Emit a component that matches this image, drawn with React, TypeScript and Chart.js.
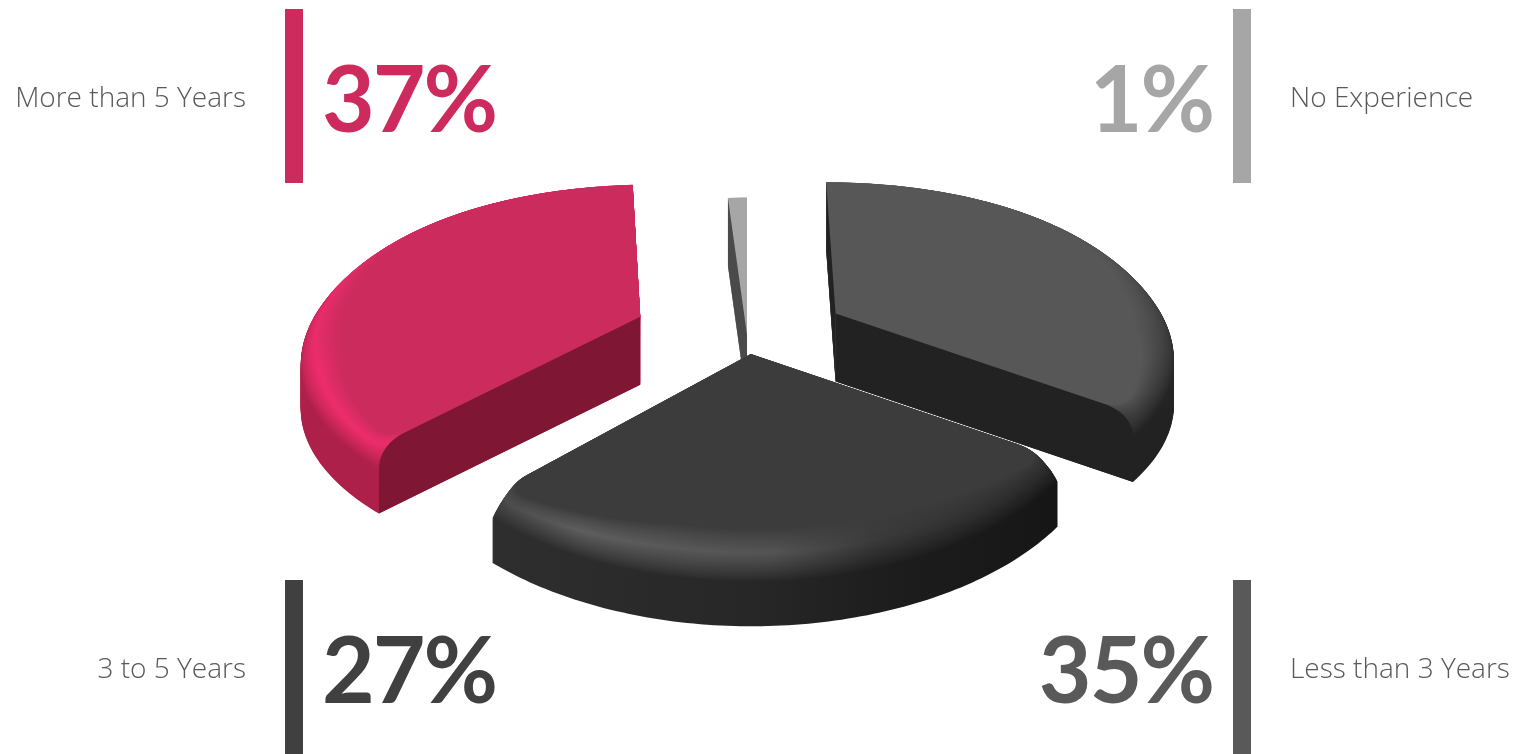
import React, { useEffect, useRef } from "react";
import { Chart, registerables } from "chart.js";

Chart.register(...registerables);

const categories = ["Less than 3 Years", "3 to 5 Years", "More than 5 Years", "No Experience"];
const values = [35, 27, 37, 1];
const explodePx = [101, 40, 115, 0];
const sliceColors = ["#575757", "#3C3C3C", "#CC2B5E", "#A6A6A6"];
const markColors = ["#595959", "#404040", "#CD2B5E", "#A6A6A6"];
const wallColors = ["#222222", "#2A2A2A", "#7F1734", "#4A4A4A"];

type Stop = [number, string, string]; // position, bevel highlight, rim wall
type Look = { line: number[]; stops: Stop[]; bevel: number; roundStart: boolean; roundEnd: boolean; startNudge: number };
const looks: Look[] = [
  { line: [960, 200, 1150, 430], bevel: 0.11, roundStart: false, roundEnd: true, startNudge: 0,
    stops: [[0, "#575757", "#575757"], [0.45, "#4E4E4E", "#3A3A3A"], [1, "#3E3E3E", "#222222"]] },
  { line: [490, 0, 1055, 0], bevel: 0.12, roundStart: true, roundEnd: true, startNudge: -0.035,
    stops: [[0, "#484848", "#2E2E2E"], [0.16, "#5E5E5E", "#2C2C2C"], [0.5, "#545454", "#262626"], [0.68, "#3A3A3A", "#1E1E1E"], [1, "#2C2C2C", "#161616"]] },
  { line: [330, 450, 610, 170], bevel: 0.11, roundStart: true, roundEnd: false, startNudge: 0,
    stops: [[0, "#F02D6E", "#AD2049"], [0.4, "#E22C67", "#B8234F"], [0.72, "#CC2B5E", "#CC2B5E"], [1, "#CC2B5E", "#CC2B5E"]] },
  { line: [0, 0, 1, 0], bevel: 0, roundStart: false, roundEnd: false, startNudge: 0,
    stops: [[0, "#A6A6A6", "#A6A6A6"], [1, "#A6A6A6", "#A6A6A6"]] },
];

const PERSP_X = 0.12;
const PERSP_Y = 0.175;
const DEPTH_PX = 161;
const THICK = 68;
const BEVEL_DROP = 24;
const CORNER = 0.09;
const TAPER = (30 * Math.PI) / 180;

const hex = (c: string) => [1, 3, 5].map((i) => parseInt(c.slice(i, i + 2), 16));
const mix = (a: string, b: string, t: number) => {
  const x = hex(a), y = hex(b);
  return `rgb(${x.map((v, i) => Math.round(v + (y[i] - v) * t)).join(",")})`;
};

const pie3d = {
  id: "pie3d",
  beforeDatasetDraw(chart: any, args: any) {
    const ctx: CanvasRenderingContext2D = chart.ctx;
    const meta = chart.getDatasetMeta(args.index);
    const order = meta.data.map((_: any, i: number) => i).sort((a: number, b: number) => {
      const s = (k: number) => Math.sin((meta.data[k].startAngle + meta.data[k].endAngle) / 2);
      return s(a) - s(b);
    });
    for (const i of order) {
      const arc = meta.data[i];
      const look = looks[i];
      const R = arc.outerRadius;
      const mid = (arc.startAngle + arc.endAngle) / 2;
      const startA = arc.startAngle + look.startNudge;
      const endA = arc.endAngle;
      const off = (arc.options.offset || 0) / R;
      const ox = Math.cos(mid) * off, oy = Math.sin(mid) * off;
      const P = (rho: number, th: number, z: number) => {
        const X = ox + rho * Math.cos(th), Y = oy + rho * Math.sin(th);
        return [arc.x + (R * X) / (1 - PERSP_X * Y), arc.y + (DEPTH_PX * Y) / (1 - PERSP_Y * Y) + z];
      };
      // the bevel fades out towards the back of the pie and narrows at rounded corners
      const rimAt = (shrink: number, th: number) => {
        let w = Math.min(1, (1 + Math.sin(th)) * 1.2);
        if (look.roundStart) w *= Math.min(1, 0.3 + (0.7 * Math.max(0, th - startA)) / TAPER);
        if (look.roundEnd) w *= Math.min(1, 0.3 + (0.7 * Math.max(0, endA - th)) / TAPER);
        return 1 - shrink * w;
      };
      const outline = (shrink: number, rc: number, z: number) => {
        const pts: number[][] = [P(0, startA, z)];
        const q = (r0: number, t0: number, rcn: number, tcn: number, r1: number, t1: number) => {
          for (let k = 0; k <= 12; k++) {
            const u = k / 12;
            const xy = (r: number, t: number) => [r * Math.cos(t), r * Math.sin(t)];
            const A = xy(r0, t0), B = xy(rcn, tcn), C = xy(r1, t1);
            const x = (1 - u) ** 2 * A[0] + 2 * u * (1 - u) * B[0] + u * u * C[0];
            const y = (1 - u) ** 2 * A[1] + 2 * u * (1 - u) * B[1] + u * u * C[1];
            pts.push(P(Math.hypot(x, y), Math.atan2(y, x), z));
          }
        };
        const rs = rimAt(shrink, startA), re = rimAt(shrink, endA);
        const a0 = startA + (look.roundStart ? rc / rs : 0);
        const a1 = endA - (look.roundEnd ? rc / re : 0);
        if (look.roundStart) q(rs - rc, startA, rs, startA, rimAt(shrink, a0), a0);
        else pts.push(P(rs, startA, z));
        const n = Math.max(2, Math.ceil(((a1 - a0) * 180) / Math.PI));
        for (let k = 0; k <= n; k++) {
          const t = a0 + ((a1 - a0) * k) / n;
          pts.push(P(rimAt(shrink, t), t, z));
        }
        if (look.roundEnd) q(rimAt(shrink, a1), a1, re, endA, re - rc, endA);
        else pts.push(P(re, endA, z));
        return pts;
      };
      const fillPts = (pts: number[][], style: any) => {
        ctx.beginPath();
        pts.forEach((p, k) => (k ? ctx.lineTo(p[0], p[1]) : ctx.moveTo(p[0], p[1])));
        ctx.closePath();
        ctx.fillStyle = style;
        ctx.fill();
      };
      const top = arc.options.backgroundColor;
      const paint = (u: number) => {
        const [x0, y0, x1, y1] = look.line;
        const g = ctx.createLinearGradient(x0, y0, x1, y1);
        for (const [pos, hi, wall] of look.stops) {
          const c = u < 0.45 ? mix(top, hi, u / 0.45) : mix(hi, wall, (u - 0.45) / 0.55);
          g.addColorStop(pos, c);
        }
        return g;
      };
      for (let z = THICK; z > BEVEL_DROP; z -= 1) fillPts(outline(0, 0, z), paint(1));
      const N = 36;
      for (let k = N; k >= 0; k--) {
        const f = ((k / N) * Math.PI) / 2;
        const z = BEVEL_DROP * (1 - Math.cos(f));
        fillPts(outline(look.bevel * (1 - Math.sin(f)), CORNER * Math.cos(f), z), paint(k / N));
      }
      // visible straight cut faces
      const A = P(0, startA, 0);
      const I = P(0.5, mid, 0);
      const wall = (th: number, rounded: boolean) => {
        const C = P(1, th, 0);
        const cross = (C[0] - A[0]) * (I[1] - A[1]) - (C[1] - A[1]) * (I[0] - A[0]);
        const down = C[0] - A[0];
        if (cross * down > 0) return;
        const pts: number[][] = [A];
        if (rounded) {
          const S = P(0.92, th, 0);
          const E = P(1, th, BEVEL_DROP);
          const K = P(1, th, 2);
          pts.push(S);
          for (let k = 1; k <= 10; k++) {
            const u = k / 10;
            pts.push([
              (1 - u) ** 2 * S[0] + 2 * u * (1 - u) * K[0] + u * u * E[0],
              (1 - u) ** 2 * S[1] + 2 * u * (1 - u) * K[1] + u * u * E[1],
            ]);
          }
        } else pts.push(C);
        pts.push(P(1, th, THICK), P(0, th, THICK));
        fillPts(pts, wallColors[i]);
      };
      wall(startA, look.roundStart);
      wall(endA, look.roundEnd);
    }
    return false;
  },
};

const labelFont = '"Open Sans", sans-serif';
const bigFont = "Lato, sans-serif";

function Callout({ i, side, row }: { i: number; side: "left" | "right"; row: "top" | "bottom" }) {
  const y = row === "top" ? 9 : 580;
  const left = side === "left";
  return (
    <>
      <div style={{ position: "absolute", left: left ? 285 : 1233, top: y, width: 18, height: 174, background: markColors[i] }} />
      <div
        style={{
          position: "absolute", top: y + 67, height: 40, lineHeight: "40px", fontFamily: labelFont, fontWeight: 300,
          fontSize: 28, color: "#595959", whiteSpace: "nowrap",
          ...(left ? { right: 1518 - 246 } : { left: 1290 }),
        }}
      >
        {categories[i]}
      </div>
      <div
        style={{
          position: "absolute", top: y + 33, height: 110, lineHeight: "110px", fontFamily: bigFont, fontWeight: 700,
          fontSize: 91, letterSpacing: -2, color: markColors[i], whiteSpace: "nowrap",
          ...(left ? { left: 322 } : { right: 1518 - 1213 }),
        }}
      >
        {values[i]}%
      </div>
    </>
  );
}

export default function App() {
  const ref = useRef<HTMLCanvasElement>(null);
  useEffect(() => {
    const chart = new Chart(ref.current!, {
      type: "pie",
      data: {
        labels: categories,
        datasets: [{ data: values, backgroundColor: sliceColors, borderWidth: 0, offset: explodePx }],
      },
      options: {
        responsive: false,
        animation: false,
        radius: 340,
        layout: { padding: { right: 24, bottom: 84.5 } },
        plugins: { legend: { display: false }, tooltip: { enabled: false } },
      } as any,
      plugins: [pie3d],
    });
    return () => chart.destroy();
  }, []);
  return (
    <div style={{ position: "absolute", left: 0, top: 0, width: 1518, height: 754, overflow: "hidden", background: "#fff" }}>
      <canvas ref={ref} width={1518} height={754} style={{ position: "absolute", left: 0, top: 0 }} />
      <Callout i={2} side="left" row="top" />
      <Callout i={3} side="right" row="top" />
      <Callout i={1} side="left" row="bottom" />
      <Callout i={0} side="right" row="bottom" />
    </div>
  );
}
